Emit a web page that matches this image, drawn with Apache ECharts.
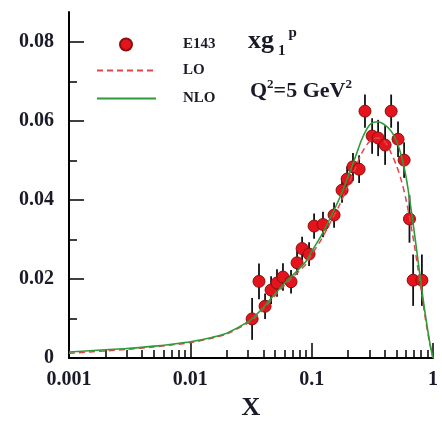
<!DOCTYPE html>
<html>
<head>
<meta charset="utf-8">
<script src="https://cdn.jsdelivr.net/npm/echarts@6/dist/echarts.min.js"></script>
<style>
html,body{margin:0;padding:0;background:#fff;}
#c{width:442px;height:423px;}
</style>
</head>
<body>
<div id="c"></div>
<script>
// E143 data points
const e143X = [0.0323,0.0368,0.0413,0.0463,0.0518,0.058,0.0676,0.0758,0.0834,0.0952,0.1047,0.124,0.153,0.178,0.196,0.219,0.246,0.275,0.315,0.353,0.403,0.452,0.515,0.578,0.64,0.686,0.81];
const e143Y = [0.0099,0.0194,0.0131,0.0172,0.0190,0.0205,0.0193,0.0241,0.0277,0.0263,0.0334,0.0338,0.0362,0.0425,0.0453,0.0484,0.0478,0.0625,0.0562,0.0557,0.0539,0.0625,0.0554,0.0501,0.0352,0.0197,0.0197];
const e143Err = [0.0053,0.0045,0.0032,0.0035,0.0035,0.0035,0.0030,0.0030,0.0030,0.0030,0.0032,0.0032,0.0032,0.0032,0.0032,0.0035,0.0035,0.0042,0.0045,0.0046,0.0050,0.0042,0.0045,0.0045,0.0060,0.0065,0.0065];

// Curves
const curveX = [0.001,0.002,0.003,0.005,0.007,0.01,0.015,0.02,0.03,0.035,0.04,0.05,0.06,0.07,0.08,0.09,0.1,0.12,0.14,0.17,0.2,0.23,0.26,0.3,0.35,0.4,0.45,0.5,0.55,0.6,0.65,0.7,0.75,0.8,0.85,0.9,0.95,1.0];
const nloY = [0.0015,0.0021,0.0024,0.0030,0.0035,0.0041,0.0052,0.0063,0.0092,0.0110,0.0128,0.0163,0.0190,0.0210,0.0228,0.0245,0.0270,0.0310,0.0350,0.0405,0.0460,0.0510,0.0555,0.0590,0.0598,0.0590,0.0575,0.0550,0.0510,0.0458,0.0390,0.0320,0.0250,0.0185,0.0125,0.0075,0.0032,0.0];
const loY  = [0.0012,0.0018,0.0022,0.0028,0.0033,0.0039,0.0050,0.0061,0.0089,0.0105,0.0124,0.0158,0.0185,0.0205,0.0222,0.0238,0.0262,0.0300,0.0338,0.0388,0.0438,0.0482,0.0520,0.0548,0.0557,0.0548,0.0520,0.0487,0.0448,0.0400,0.0345,0.0288,0.0228,0.0170,0.0115,0.0068,0.0030,0.0];

// Tick values
const xMajorTicks = [0.001,0.01,0.1,1];
const xMinorTicks = [0.002,0.003,0.004,0.005,0.006,0.007,0.008,0.009,0.02,0.03,0.04,0.05,0.06,0.07,0.08,0.09,0.2,0.3,0.4,0.5,0.6,0.7,0.8,0.9];
const yMajorTicks = [0,0.02,0.04,0.06,0.08];
const yMinorTicks = [0.01,0.03,0.05,0.07];

const FONT = '"Liberation Serif", "DejaVu Serif", serif';
const TXT = '#1a1a28';
const GRID = {left:69, right:9, top:12, bottom:65};
const W = 442, H = 423;
const gridW = W - GRID.left - GRID.right;
const gridH = H - GRID.top - GRID.bottom;

const pts = e143X.map((x,i)=>[x,e143Y[i]]);
const bars = e143X.map((x,i)=>[x,e143Y[i]-e143Err[i],e143Y[i]+e143Err[i]]);
const nlo = curveX.map((x,i)=>[x,nloY[i]]);
const lo = curveX.map((x,i)=>[x,loY[i]]);

const tickStyle = {color:'#000', width:1.5};
const xTickAxis = (vals, len) => ({type:'log', logBase:10, min:0.001, max:1, position:'top', offset:-gridH,
  axisLine:{show:false}, axisLabel:{show:false}, splitLine:{show:false},
  axisTick:{show:true, length:len, lineStyle:tickStyle, customValues:vals}});
const yTickAxis = (vals, len) => ({type:'value', min:0, max:0.0876, position:'right', offset:-gridW,
  axisLine:{show:false}, axisLabel:{show:false}, splitLine:{show:false},
  axisTick:{show:true, length:len, lineStyle:tickStyle, customValues:vals}});

const chart = echarts.init(document.getElementById('c'), null, {renderer:'canvas'});
const legendText = {fontFamily:FONT, fontWeight:'bold', fontSize:15, color:TXT};
chart.setOption({
  animation:false,
  backgroundColor:'#fff',
  grid:Object.assign({outerBoundsMode:'none',containLabel:false}, GRID),
  title:[
    {text:'xg{s|1}{p|p}', left:248, top:24, padding:0,
     textStyle:{fontFamily:FONT,fontWeight:'bold',fontSize:26,color:TXT,
       rich:{s:{fontFamily:FONT,fontWeight:'bold',fontSize:15,color:TXT,padding:[20,0,0,4]},
             p:{fontFamily:FONT,fontWeight:'bold',fontSize:15,color:TXT,padding:[0,0,16,3]}}}},
    {text:'Q{p|2}=5 GeV{p|2}', left:250, top:78, padding:0,
     textStyle:{fontFamily:FONT,fontWeight:'bold',fontSize:22,color:TXT,
       rich:{p:{fontFamily:FONT,fontWeight:'bold',fontSize:13,color:TXT,padding:[0,0,14,0]}}}}
  ],
  legend:[
    {data:['E143'], left:119, top:37, padding:0, itemWidth:12, itemHeight:12, orient:'vertical',
     textStyle:Object.assign({padding:[0,0,0,46]},legendText)},
    {data:['LO'], left:96, top:63, padding:0, itemWidth:59, itemHeight:14, orient:'vertical',
     itemStyle:{opacity:0},
     textStyle:Object.assign({padding:[0,0,0,22]},legendText)},
    {data:['NLO'], left:96, top:91, padding:0, itemWidth:59, itemHeight:14, orient:'vertical',
     itemStyle:{opacity:0},
     textStyle:Object.assign({padding:[0,0,0,22]},legendText)}
  ],
  xAxis:[
    {type:'log', logBase:10, min:0.001, max:1, position:'bottom',
     name:'X', nameLocation:'middle', nameGap:36,
     nameTextStyle:{fontFamily:FONT,fontWeight:'bold',fontSize:26,color:TXT},
     axisLine:{show:true,lineStyle:{color:'#000',width:2}},
     axisTick:{show:false},
     axisLabel:{show:true,margin:12,fontFamily:FONT,fontWeight:'bold',fontSize:20,color:TXT,customValues:xMajorTicks,
       formatter:v=>String(+v.toPrecision(3))},
     splitLine:{show:false}, minorTick:{show:false}},
    xTickAxis(xMajorTicks, 15),
    xTickAxis(xMinorTicks, 8)
  ],
  yAxis:[
    {type:'value', min:0, max:0.0876, position:'left',
     axisLine:{show:true,lineStyle:{color:'#000',width:2}},
     axisTick:{show:false},
     axisLabel:{show:true,margin:15,fontFamily:FONT,fontWeight:'bold',fontSize:20,color:TXT,customValues:yMajorTicks,
       formatter:v=>String(+(+v).toFixed(2))},
     splitLine:{show:false}},
    yTickAxis(yMajorTicks, 15),
    yTickAxis(yMinorTicks, 8)
  ],
  series:[
    {type:'custom', name:'err', xAxisIndex:0, yAxisIndex:0, z:2,
     renderItem:(params,api)=>{
       const x=api.value(0), lo=api.value(1), hi=api.value(2);
       const p1=api.coord([x,lo]), p2=api.coord([x,hi]);
       return {type:'line', shape:{x1:p1[0],y1:p1[1],x2:p2[0],y2:p2[1]}, style:{stroke:'#111',lineWidth:1.8}};
     },
     encode:{x:0,y:[1,2]},
     data:bars, silent:true},
    {type:'scatter', name:'E143', data:pts, symbol:'circle', symbolSize:12, z:3,
     itemStyle:{color:'#e3141c', borderColor:'#8a1010', borderWidth:1, opacity:1}},
    {type:'line', name:'LO', data:lo, symbol:'none', smooth:0.3, z:4,
     lineStyle:{color:'#e0474c', width:1.5, type:[6,4]}, itemStyle:{color:'#e0474c'}},
    {type:'line', name:'NLO', data:nlo, symbol:'none', smooth:0.3, z:5,
     lineStyle:{color:'#2f9a3a', width:1.6}, itemStyle:{color:'#2f9a3a'}}
  ]
});
</script>
</body>
</html>
